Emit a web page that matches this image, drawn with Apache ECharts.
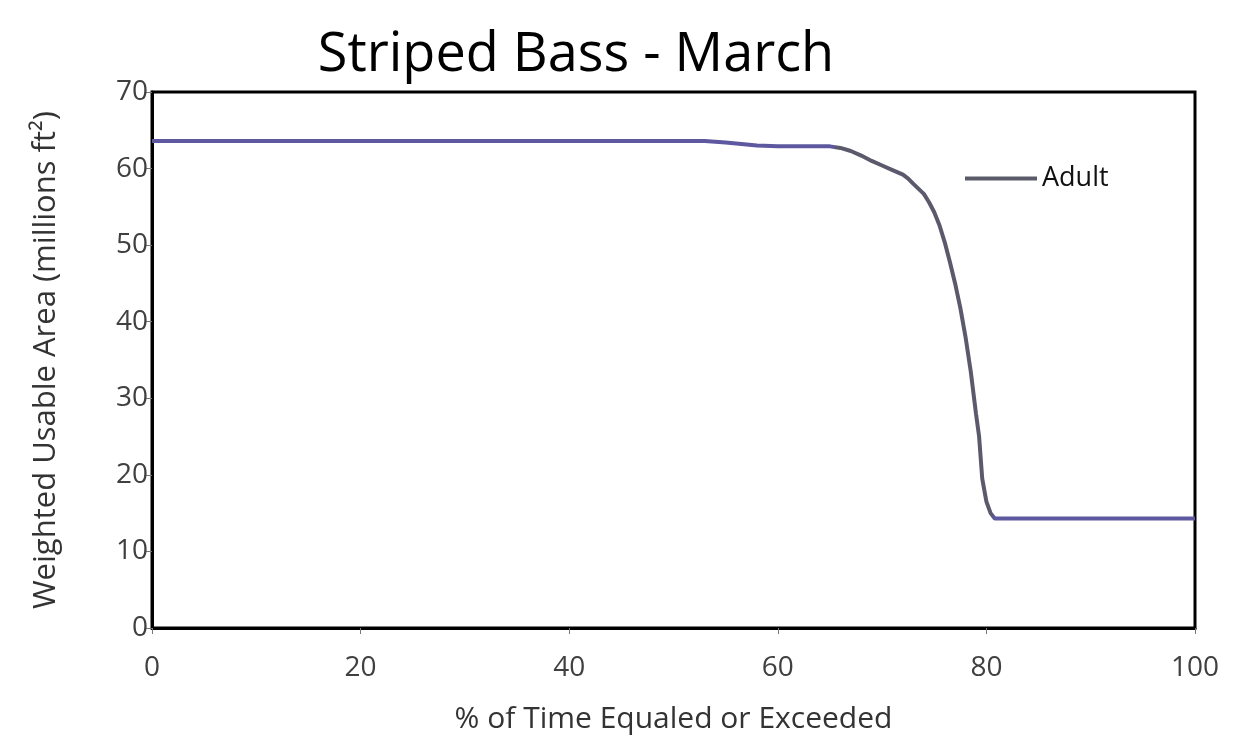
<!DOCTYPE html>
<html>
<head>
<meta charset="utf-8">
<script src="https://cdn.jsdelivr.net/npm/echarts@6/dist/echarts.min.js"></script>
<style>
  html, body { margin: 0; padding: 0; background: #fff; }
  #chart { width: 1254px; height: 755px; }
</style>
</head>
<body>
<div id="chart"></div>
<script>
// % of time equaled or exceeded
const pct = [0, 53, 55, 58, 60, 65, 66, 67, 68, 69, 70, 71, 72, 72.5, 73, 74, 74.5, 75, 75.5, 76, 76.5, 77, 77.5, 78, 78.5, 79, 79.3, 79.6, 80, 80.4, 80.8, 100];
// weighted usable area (millions ft2), adult
const adult = [63.6, 63.6, 63.4, 63.0, 62.9, 62.9, 62.7, 62.3, 61.7, 61.0, 60.4, 59.8, 59.2, 58.7, 58.0, 56.7, 55.6, 54.3, 52.6, 50.4, 47.8, 45.0, 41.8, 38.0, 33.5, 28.0, 25.0, 19.5, 16.5, 15.0, 14.3, 14.3];
const xTicks = [0, 20, 40, 60, 80, 100];
const yTicks = [0, 10, 20, 30, 40, 50, 60, 70];

const lineData = pct.map((p, i) => [p, adult[i]]);
const fontFam = "'Open Sans', 'Noto Sans', sans-serif";

const chart = echarts.init(document.getElementById("chart"));
const option = {
  animation: false,
  title: {
    text: "Striped Bass - March",
    left: 571,
    textAlign: "center",
    top: 24,
    textStyle: { fontSize: 54, fontWeight: "normal", color: "#000", fontFamily: fontFam },
  },
  legend: {
    data: [{ name: "Adult", icon: "rect", itemStyle: { color: "#5a5a68" } }],
    left: 960,
    top: 160,
    itemWidth: 72,
    itemHeight: 4,
    itemGap: 4,
    textStyle: { fontSize: 27, color: "#111", fontFamily: fontFam },
  },
  grid: {
    left: 152,
    right: 59,
    top: 92,
    bottom: 127,
    show: true,
    borderColor: "#000",
    borderWidth: 3,
    backgroundColor: "#fff",
  },
  visualMap: {
    show: false,
    type: "piecewise",
    dimension: 0,
    seriesIndex: 0,
    pieces: [
      { lt: 65.5, color: "#5e58a0" },
      { gte: 65.5, lt: 80.6, color: "#5a5a6c" },
      { gte: 80.6, color: "#5e58a0" },
    ],
  },
  xAxis: {
    type: "value",
    min: 0,
    max: 100,
    interval: 20,
    name: "% of Time Equaled or Exceeded",
    nameLocation: "middle",
    nameGap: 76,
    nameTextStyle: { fontSize: 30, color: "#333", fontFamily: fontFam },
    axisLine: { show: true, lineStyle: { color: "#000", width: 3 } },
    axisTick: { show: true, length: 6, lineStyle: { color: "#777", width: 1 } },
    axisLabel: {
      fontSize: 28,
      color: "#404040",
      fontFamily: fontFam,
      margin: 26,
      formatter: (v) => (xTicks.includes(v) ? String(v) : ""),
    },
    splitLine: { show: false },
  },
  yAxis: {
    type: "value",
    min: 0,
    max: 70,
    interval: 10,
    name: "Weighted Usable Area (millions ft²)",
    nameLocation: "middle",
    nameGap: 90,
    nameTextStyle: { fontSize: 31, color: "#333", fontFamily: fontFam },
    axisLine: { show: true, lineStyle: { color: "#000", width: 3 } },
    axisTick: { show: true, length: 6, lineStyle: { color: "#777", width: 1 } },
    axisLabel: {
      fontSize: 28,
      color: "#404040",
      fontFamily: fontFam,
      margin: 4,
      formatter: (v) => (yTicks.includes(v) ? String(v) : ""),
    },
    splitLine: { show: false },
  },
  series: [
    {
      name: "Adult",
      type: "line",
      data: lineData,
      showSymbol: false,
      lineStyle: { width: 4 },
      itemStyle: { color: "#5a5a68" },
    },
  ],
};
chart.setOption(option);
</script>
</body>
</html>
